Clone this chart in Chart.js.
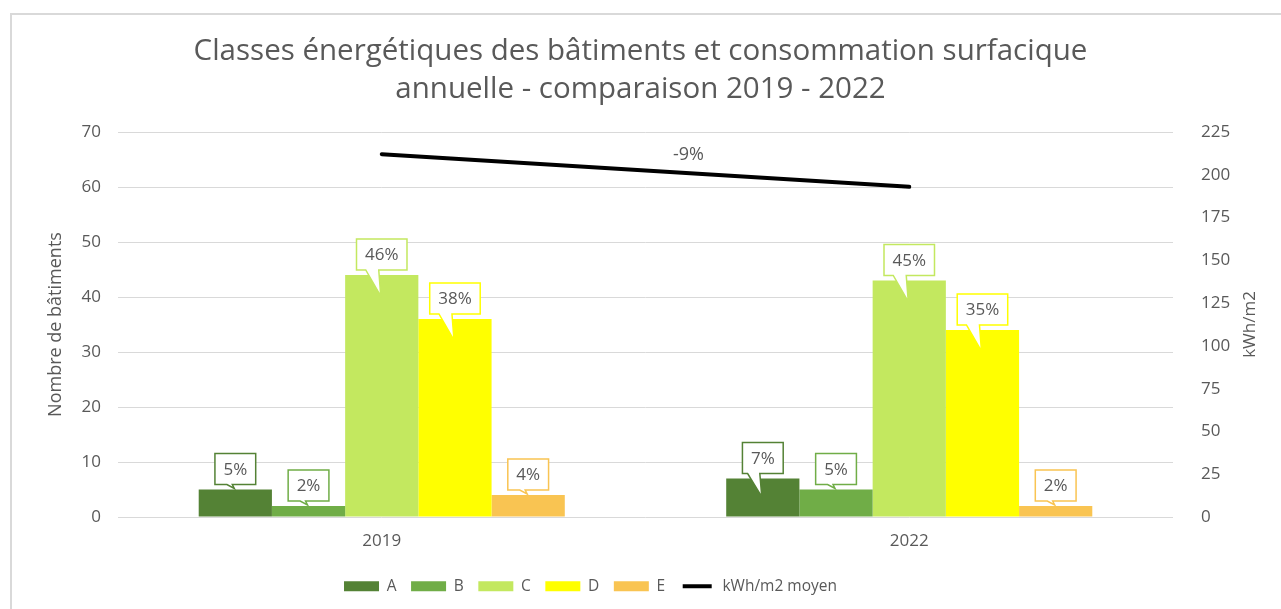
<!DOCTYPE html>
<html>
<head>
<meta charset="utf-8">
<script src="https://cdn.jsdelivr.net/npm/chart.js@4.4.1/dist/chart.umd.min.js"></script>
<style>
  html, body { margin: 0; padding: 0; background: #ffffff; }
  #wrap { width: 1281px; height: 609px; position: relative; }
  canvas { display: block; }
</style>
</head>
<body>
<div id="wrap"><canvas id="chart" width="1281" height="609"></canvas></div>
<script>
// ---------- DATA ----------
const categories = ['2019', '2022'];
const classNames = ['A', 'B', 'C', 'D', 'E'];
const classA = [5, 7];
const classB = [2, 5];
const classC = [44, 43];
const classD = [36, 34];
const classE = [4, 2];
const pctA = ['5%', '7%'];
const pctB = ['2%', '5%'];
const pctC = ['46%', '45%'];
const pctD = ['38%', '35%'];
const pctE = ['4%', '2%'];
const consumption = [212, 193];          // kWh/m2 moyen
const consumptionName = 'kWh/m2 moyen';
const consumptionChange = '-9%';
const leftAxisMax = 70, leftAxisStep = 10;
const rightAxisMax = 225, rightAxisStep = 25;
const titleLines = ['Classes énergétiques des bâtiments et consommation surfacique', 'annuelle - comparaison 2019 - 2022'];
const leftAxisTitle = 'Nombre de bâtiments';
const rightAxisTitle = 'kWh/m2';

// ---------- STYLE ----------
const FONT = "'Open Sans', 'Liberation Sans', sans-serif";
const TEXT = '#595959';
const GRID = '#d9d9d9';
const classColors = ['#548235', '#70AD47', '#C3E85F', '#FFFF00', '#F9C452'];
const classValues = [classA, classB, classC, classD, classE];
const classPcts = [pctA, pctB, pctC, pctD, pctE];

Chart.defaults.font.family = FONT;
Chart.defaults.color = TEXT;

const framePlugin = {
  id: 'frame',
  beforeDraw(chart) {
    const ctx = chart.ctx;
    ctx.save();
    ctx.fillStyle = '#ffffff';
    ctx.fillRect(0, 0, chart.width, chart.height);
    ctx.strokeStyle = GRID;
    ctx.lineWidth = 2;
    ctx.beginPath();
    ctx.moveTo(11, chart.height);
    ctx.lineTo(11, 14);
    ctx.lineTo(chart.width, 14);
    ctx.stroke();
    ctx.restore();
  }
};

const legendShiftPlugin = {
  id: 'legendShift',
  afterLayout(chart) {
    if (chart.legend) { chart.legend.left -= 50; chart.legend.right -= 50; }
  }
};

const labelsPlugin = {
  id: 'callouts',
  afterDatasetsDraw(chart) {
    const ctx = chart.ctx;
    ctx.save();
    ctx.font = '17px ' + FONT;
    for (let i = 0; i < classNames.length; i++) {
      const meta = chart.getDatasetMeta(i);
      meta.data.forEach((el, j) => {
        const txt = classPcts[i][j];
        const x = el.x, top = el.y, base = el.base;
        const tw = ctx.measureText(txt).width;
        const w = tw + 17, h = 31;
        const boxBottom = top - 5, boxTop = boxBottom - h;
        const left = x - w / 2, right = x + w / 2;
        const L = Math.min(26, Math.max(4, (base - top - 25) * 1.8));
        const tipX = x - 1, tipY = boxBottom + L;
        const baseR = x - 3, baseL = baseR - Math.min(13, 4 + L * 0.35);
        ctx.beginPath();
        ctx.moveTo(left, boxTop);
        ctx.lineTo(right, boxTop);
        ctx.lineTo(right, boxBottom);
        ctx.lineTo(baseR, boxBottom);
        ctx.lineTo(tipX, tipY);
        ctx.lineTo(baseL, boxBottom);
        ctx.lineTo(left, boxBottom);
        ctx.closePath();
        ctx.fillStyle = '#ffffff';
        ctx.fill();
        ctx.lineWidth = 1.5;
        ctx.strokeStyle = classColors[i];
        ctx.stroke();
        ctx.fillStyle = TEXT;
        ctx.textAlign = 'center';
        ctx.textBaseline = 'middle';
        ctx.fillText(txt, x, (boxTop + boxBottom) / 2 + 1);
      });
    }
    // change label for line
    const lmeta = chart.getDatasetMeta(classNames.length);
    const p0 = lmeta.data[0], p1 = lmeta.data[1];
    ctx.font = '18px ' + FONT;
    ctx.fillStyle = TEXT;
    ctx.textAlign = 'center';
    ctx.textBaseline = 'middle';
    ctx.fillText(consumptionChange, (p0.x + p1.x) / 2 + 43, (p0.y + p1.y) / 2 - 16);
    // right axis title (bottom-to-top)
    const y1 = chart.scales.y1;
    ctx.font = '17px ' + FONT;
    ctx.translate(1250, (y1.top + y1.bottom) / 2);
    ctx.rotate(-Math.PI / 2);
    ctx.fillText(rightAxisTitle, 0, 0);
    ctx.restore();
  }
};

const datasets = classNames.map((name, i) => ({
  type: 'bar',
  label: name,
  data: classValues[i],
  backgroundColor: classColors[i],
  borderWidth: 0,
  yAxisID: 'y',
  barPercentage: 1.0,
  categoryPercentage: 0.694
}));
datasets.push({
  type: 'line',
  label: consumptionName,
  data: consumption,
  yAxisID: 'y1',
  borderColor: '#000000',
  backgroundColor: '#000000',
  borderWidth: 4,
  borderCapStyle: 'round',
  pointRadius: 0,
  fill: false,
  tension: 0
});

new Chart(document.getElementById('chart'), {
  type: 'bar',
  data: { labels: categories, datasets },
  plugins: [framePlugin, legendShiftPlugin, labelsPlugin],
  options: {
    responsive: false,
    devicePixelRatio: 1,
    animation: false,
    layout: { padding: { left: 0, right: 0, top: 0, bottom: 5 } },
    plugins: {
      tooltip: { enabled: false },
      title: {
        display: true,
        text: titleLines,
        color: TEXT,
        font: { family: FONT, size: 29.5, weight: 'normal', lineHeight: 38 / 29.5 },
        padding: { top: 33, bottom: 23 }
      },
      legend: {
        position: 'bottom',
        labels: {
          boxWidth: 35,
          boxHeight: 10,
          padding: 14.5,
          color: TEXT,
          font: { family: FONT, size: 15.5 },
          generateLabels(chart) {
            const items = Chart.defaults.plugins.legend.labels.generateLabels(chart);
            items.forEach((it) => {
              if (it.datasetIndex === classNames.length) {
                it.fillStyle = '#000000';
                it.strokeStyle = '#ffffff';
                it.lineWidth = 6;
                it.lineCap = 'butt';
                it.lineDash = [];
              } else {
                it.lineWidth = 0;
              }
            });
            return items;
          }
        }
      }
    },
    scales: {
      x: {
        grid: { display: false },
        border: { display: false },
        ticks: { color: TEXT, font: { family: FONT, size: 17 }, padding: 6 },
        afterFit(s) { s.height = 47; }
      },
      y: {
        position: 'left',
        min: 0, max: leftAxisMax,
        ticks: { stepSize: leftAxisStep, color: TEXT, font: { family: FONT, size: 17 }, padding: 17 },
        grid: { color: GRID, lineWidth: 1, drawTicks: false },
        border: { display: false },
        title: {
          display: true, text: leftAxisTitle, color: TEXT,
          font: { family: FONT, size: 18 }, padding: { top: 45, bottom: 0 }
        },
        afterFit(s) { s.width = 118; }
      },
      y1: {
        position: 'right',
        min: 0, max: rightAxisMax,
        ticks: { stepSize: rightAxisStep, color: TEXT, font: { family: FONT, size: 17 }, padding: 20 },
        grid: { display: false },
        border: { display: false },
        afterFit(s) { s.width = 108; }
      }
    }
  }
});
</script>
</body>
</html>
